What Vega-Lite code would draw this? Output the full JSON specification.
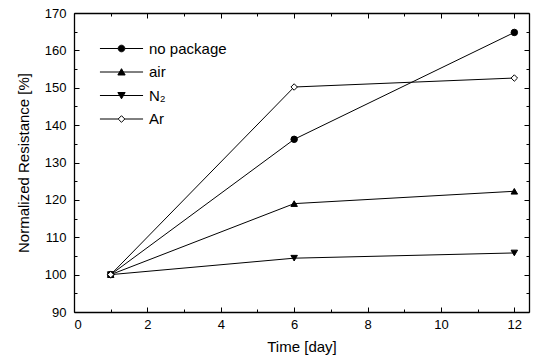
{
  "$schema": "https://vega.github.io/schema/vega-lite/v6.json",
  "autosize": {"type": "none"},
  "padding": {"left": 74, "top": 13, "right": 4, "bottom": 46},
  "width": 455,
  "height": 299,
  "config": {
    "font": "Liberation Sans",
    "view": {"stroke": null},
    "axis": {"grid": false, "domainColor": "black", "domainWidth": 1.3, "tickColor": "black", "tickWidth": 1, "labelColor": "black", "titleColor": "black", "labelFontSize": 13, "titleFontSize": 15, "titleFontWeight": "normal"},
    "legend": {"symbolStrokeColor": "black", "symbolStrokeWidth": 1}
  },
  "data": {"values": [
    {"series": "no package", "day": 1, "r": 100},
    {"series": "no package", "day": 6, "r": 136.2},
    {"series": "no package", "day": 12, "r": 164.8},
    {"series": "air", "day": 1, "r": 100},
    {"series": "air", "day": 6, "r": 119},
    {"series": "air", "day": 12, "r": 122.3},
    {"series": "N₂", "day": 1, "r": 100},
    {"series": "N₂", "day": 6, "r": 104.4},
    {"series": "N₂", "day": 12, "r": 105.8},
    {"series": "Ar", "day": 1, "r": 100},
    {"series": "Ar", "day": 6, "r": 150.2},
    {"series": "Ar", "day": 12, "r": 152.6}
  ]},
  "layer": [
    {
      "mark": {"type": "line", "color": "black", "strokeWidth": 1},
      "encoding": {
        "x": {"field": "day", "type": "quantitative", "scale": {"domain": [0, 12.4], "nice": false, "zero": false},
              "axis": {"orient": "bottom", "values": [0, 2, 4, 6, 8, 10, 12], "tickSize": -5, "labelPadding": 11, "title": "Time [day]", "titlePadding": 8}},
        "y": {"field": "r", "type": "quantitative", "scale": {"domain": [90, 170], "nice": false, "zero": false},
              "axis": {"orient": "left", "values": [90, 100, 110, 120, 130, 140, 150, 160, 170], "tickSize": -5, "labelPadding": 13, "title": "Normalized Resistance [%]", "titlePadding": 13}},
        "detail": {"field": "series"}
      }
    },
    {
      "mark": {"type": "point", "filled": true, "stroke": "black", "strokeWidth": 1, "size": 42, "opacity": 1},
      "encoding": {
        "x": {"field": "day", "type": "quantitative",
              "axis": {"orient": "top", "values": [0, 2, 4, 6, 8, 10, 12], "tickSize": -5, "labels": false, "title": null}},
        "y": {"field": "r", "type": "quantitative",
              "axis": {"orient": "right", "values": [90, 100, 110, 120, 130, 140, 150, 160, 170], "tickSize": -5, "labels": false, "title": null}},
        "shape": {"field": "series", "type": "nominal", "scale": {"domain": ["no package", "air", "N₂", "Ar"], "range": ["circle", "triangle-up", "triangle-down", "diamond"]}, "legend": null},
        "fill": {"field": "series", "type": "nominal", "scale": {"domain": ["no package", "air", "N₂", "Ar"], "range": ["black", "black", "black", "white"]}, "legend": null}
      }
    },
    {
      "mark": {"type": "point", "filled": true, "stroke": "black", "strokeWidth": 1, "size": 44, "opacity": 0},
      "encoding": {
        "x": {"field": "day", "type": "quantitative",
              "axis": {"orient": "bottom", "values": [1, 3, 5, 7, 9, 11], "tickSize": -3, "labels": false, "domain": false, "title": null}},
        "y": {"field": "r", "type": "quantitative",
              "axis": {"orient": "left", "values": [95, 105, 115, 125, 135, 145, 155, 165], "tickSize": -3, "labels": false, "domain": false, "title": null}},
        "shape": {"field": "series", "type": "nominal",
                  "scale": {"domain": ["no package", "air", "N₂", "Ar"], "range": [
                    "M-6.5,0L-1,0M1,0L6.5,0M-1,0A1,1 0 1,1 1,0A1,1 0 1,1 -1,0Z",
                    "M-6.5,0L6.5,0M0,-1L1.1,0.9L-1.1,0.9Z",
                    "M-6.5,0L6.5,0M0,1L1.1,-0.9L-1.1,-0.9Z",
                    "M-6.5,0L-1,0M1,0L6.5,0M0,-1L1,0L0,1L-1,0Z"]},
                  "legend": {"title": null, "orient": "none", "legendX": 40, "legendY": 28, "labelFontSize": 15, "labelColor": "black", "labelOffset": 20, "rowPadding": 7.5, "symbolOpacity": 1, "symbolStrokeColor": "black", "symbolStrokeWidth": 1, "symbolSize": 44,
                             "encode": {"symbols": {"update": {"stroke": {"value": "black"}, "strokeWidth": {"value": 1}, "opacity": {"value": 1}, "strokeOpacity": {"value": 1}}}}}},
        "fill": {"field": "series", "type": "nominal", "scale": {"domain": ["no package", "air", "N₂", "Ar"], "range": ["black", "black", "black", "white"]},
                  "legend": {"title": null, "orient": "none", "legendX": 40, "legendY": 28, "labelFontSize": 15, "labelColor": "black", "labelOffset": 20, "rowPadding": 7.5, "symbolOpacity": 1, "symbolStrokeColor": "black", "symbolStrokeWidth": 1, "symbolSize": 44,
                             "encode": {"symbols": {"update": {"stroke": {"value": "black"}, "strokeWidth": {"value": 1}, "opacity": {"value": 1}, "strokeOpacity": {"value": 1}}}}}}
      }
    },
    {
      "mark": {"type": "point", "opacity": 0},
      "encoding": {
        "x": {"field": "day", "type": "quantitative",
              "axis": {"orient": "top", "values": [1, 3, 5, 7, 9, 11], "tickSize": -3, "labels": false, "domain": false, "title": null}},
        "y": {"field": "r", "type": "quantitative",
              "axis": {"orient": "right", "values": [95, 105, 115, 125, 135, 145, 155, 165], "tickSize": -3, "labels": false, "domain": false, "title": null}}
      }
    }
  ],
  "resolve": {"axis": {"x": "independent", "y": "independent"}, "scale": {"shape": "independent", "fill": "independent"}, "legend": {"shape": "independent", "fill": "independent"}}
}
